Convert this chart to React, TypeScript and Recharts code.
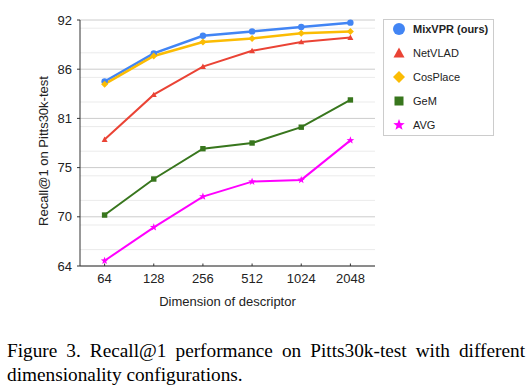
import React from 'react';
import { LineChart, Line, XAxis, YAxis, CartesianGrid, Legend } from 'recharts';

const dims = ['64', '128', '256', '512', '1024', '2048'];
const mixvpr = [85.0, 88.2, 90.2, 90.7, 91.2, 91.7];
const netvlad = [78.4, 83.5, 86.7, 88.5, 89.5, 90.0];
const cosplace = [84.7, 87.9, 89.5, 89.9, 90.5, 90.7];
const gem = [69.8, 73.9, 77.35, 78.0, 79.8, 82.9];
const avg = [64.6, 68.4, 71.9, 73.6, 73.8, 78.3];
const yTicks = [64, 69.6, 75.2, 80.8, 86.4, 92];

const data = dims.map((d, i) => ({
  dim: d,
  mixvpr: mixvpr[i],
  netvlad: netvlad[i],
  cosplace: cosplace[i],
  gem: gem[i],
  avg: avg[i],
}));

const minorTicks: number[] = [];
for (let i = 0; i < yTicks.length - 1; i++) {
  for (let j = 1; j < 6; j++) minorTicks.push(yTicks[i] + ((yTicks[i + 1] - yTicks[i]) * j) / 6);
}

type Shape = 'circle' | 'triangle' | 'diamond' | 'square' | 'star';

const series: { key: string; name: string; color: string; shape: Shape; width: number; bold?: boolean }[] = [
  { key: 'mixvpr', name: 'MixVPR (ours)', color: '#4285F4', shape: 'circle', width: 2.5, bold: true },
  { key: 'netvlad', name: 'NetVLAD', color: '#EA4335', shape: 'triangle', width: 2 },
  { key: 'cosplace', name: 'CosPlace', color: '#FBBC04', shape: 'diamond', width: 2.5 },
  { key: 'gem', name: 'GeM', color: '#38761D', shape: 'square', width: 2 },
  { key: 'avg', name: 'AVG', color: '#FF00FF', shape: 'star', width: 2 },
];

function starPath(cx: number, cy: number, R: number, r: number) {
  let d = '';
  for (let i = 0; i < 10; i++) {
    const rad = i % 2 === 0 ? R : r;
    const a = -Math.PI / 2 + (i * Math.PI) / 5;
    d += (i === 0 ? 'M' : 'L') + (cx + rad * Math.cos(a)).toFixed(2) + ',' + (cy + rad * Math.sin(a)).toFixed(2);
  }
  return d + 'Z';
}

function renderShape(shape: Shape, cx: number, cy: number, s: number, color: string, key?: string) {
  switch (shape) {
    case 'circle':
      return <circle key={key} cx={cx} cy={cy} r={s} fill={color} />;
    case 'triangle':
      return (
        <path key={key} d={`M${cx},${cy - s}L${cx + s * 1.0},${cy + s * 0.8}L${cx - s * 1.0},${cy + s * 0.8}Z`} fill={color} />
      );
    case 'diamond':
      return <path key={key} d={`M${cx},${cy - s}L${cx + s},${cy}L${cx},${cy + s}L${cx - s},${cy}Z`} fill={color} />;
    case 'square':
      return <rect key={key} x={cx - s} y={cy - s} width={2 * s} height={2 * s} fill={color} />;
    case 'star':
      return <path key={key} d={starPath(cx, cy, s, s * 0.42)} fill={color} />;
  }
}

const dotSize: Record<Shape, number> = { circle: 3.2, triangle: 3, diamond: 3.5, square: 2.7, star: 4 };
const legendSize: Record<Shape, number> = { circle: 6, triangle: 5.5, diamond: 6, square: 4.5, star: 6 };

const LegendBox = () => (
  <div
    style={{
      border: '1px solid #ccc',
      background: '#fff',
      width: 111,
      height: 117,
      boxSizing: 'border-box',
      fontFamily: 'Arial, "Liberation Sans", sans-serif',
      fontSize: 11,
      color: '#222',
    }}
  >
    {series.map((s) => (
      <div key={s.key} style={{ display: 'flex', alignItems: 'center', height: 18, marginBottom: 6 }}>
        <svg width={14} height={14} style={{ marginLeft: 8, marginRight: 7 }}>
          {renderShape(s.shape, 7, 7, legendSize[s.shape], s.color)}
        </svg>
        <span style={{ fontWeight: s.bold ? 'bold' : 'normal' }}>{s.name}</span>
      </div>
    ))}
  </div>
);

const XTick = (props: any) => {
  const { x, y, payload } = props;
  return (
    <g>
      <line x1={x} x2={x} y1={y - 7.5} y2={y - 10} stroke="#333" strokeWidth={1} />
      <text x={x} y={y} dy="0.71em" textAnchor="middle" fontSize={13} fill="#222" fontFamily="Arial, 'Liberation Sans', sans-serif">
        {payload.value}
      </text>
    </g>
  );
};

export default function App() {
  const font = "Arial, 'Liberation Sans', sans-serif";
  return (
    <div style={{ position: 'absolute', left: 0, top: 0, width: 527, height: 389, background: '#fff' }}>
      <LineChart width={527} height={320} data={data} margin={{ top: 20, right: 152, left: 0, bottom: 14 }}>
        <CartesianGrid horizontalValues={minorTicks} vertical={false} stroke="#ebebeb" strokeWidth={1} />
        <CartesianGrid horizontalValues={yTicks} vertical={false} stroke="#cccccc" strokeWidth={1} />
        <XAxis
          dataKey="dim"
          height={40}
          padding={{ left: 24.6, right: 24.6 }}
          tickLine={false}
          tickSize={3}
          tickMargin={4.5}
          axisLine={{ stroke: '#333' }}
          tick={<XTick />}
          interval={0}
          label={{
            value: 'Dimension of descriptor',
            position: 'insideBottom',
            offset: 0,
            fontSize: 13,
            fill: '#222',
            fontFamily: font,
          }}
        />
        <YAxis
          width={80}
          domain={[64, 92]}
          ticks={yTicks}
          tickFormatter={(v: number) => String(Math.round(v))}
          tickSize={3}
          tickMargin={5}
          axisLine={{ stroke: '#333' }}
          tickLine={{ stroke: '#333' }}
          tick={{ fontSize: 13, fill: '#222', fontFamily: font }}
          label={{
            content: () => (
              <text x={43} y={151} transform="rotate(-90 43 151)" textAnchor="middle" dominantBaseline="central" fontSize={13} fill="#222" fontFamily={font}>
                Recall@1 on Pitts30k-test
              </text>
            ),
          }}
        />
        <Legend
          layout="vertical"
          align="center"
          verticalAlign="middle"
          wrapperStyle={{ left: 383, top: 19, width: 111, height: 117 }}
          content={() => <LegendBox />}
        />
        {series.map((s) => (
          <Line
            key={s.key}
            dataKey={s.key}
            name={s.name}
            stroke={s.color}
            strokeWidth={s.width}
            isAnimationActive={false}
            dot={(p: any) => renderShape(s.shape, p.cx, p.cy, dotSize[s.shape], s.color, `${s.key}-${p.index}`) as any}
            activeDot={false}
          />
        ))}
      </LineChart>
      <div
        style={{
          position: 'absolute',
          left: 7,
          top: 339,
          width: 518,
          fontFamily: "'Liberation Serif', 'Times New Roman', serif",
          fontSize: 19.3,
          lineHeight: '24px',
          textAlign: 'justify',
          color: '#000',
        }}
      >
        Figure 3. Recall@1 performance on Pitts30k-test with different dimensionality configurations.
      </div>
    </div>
  );
}
